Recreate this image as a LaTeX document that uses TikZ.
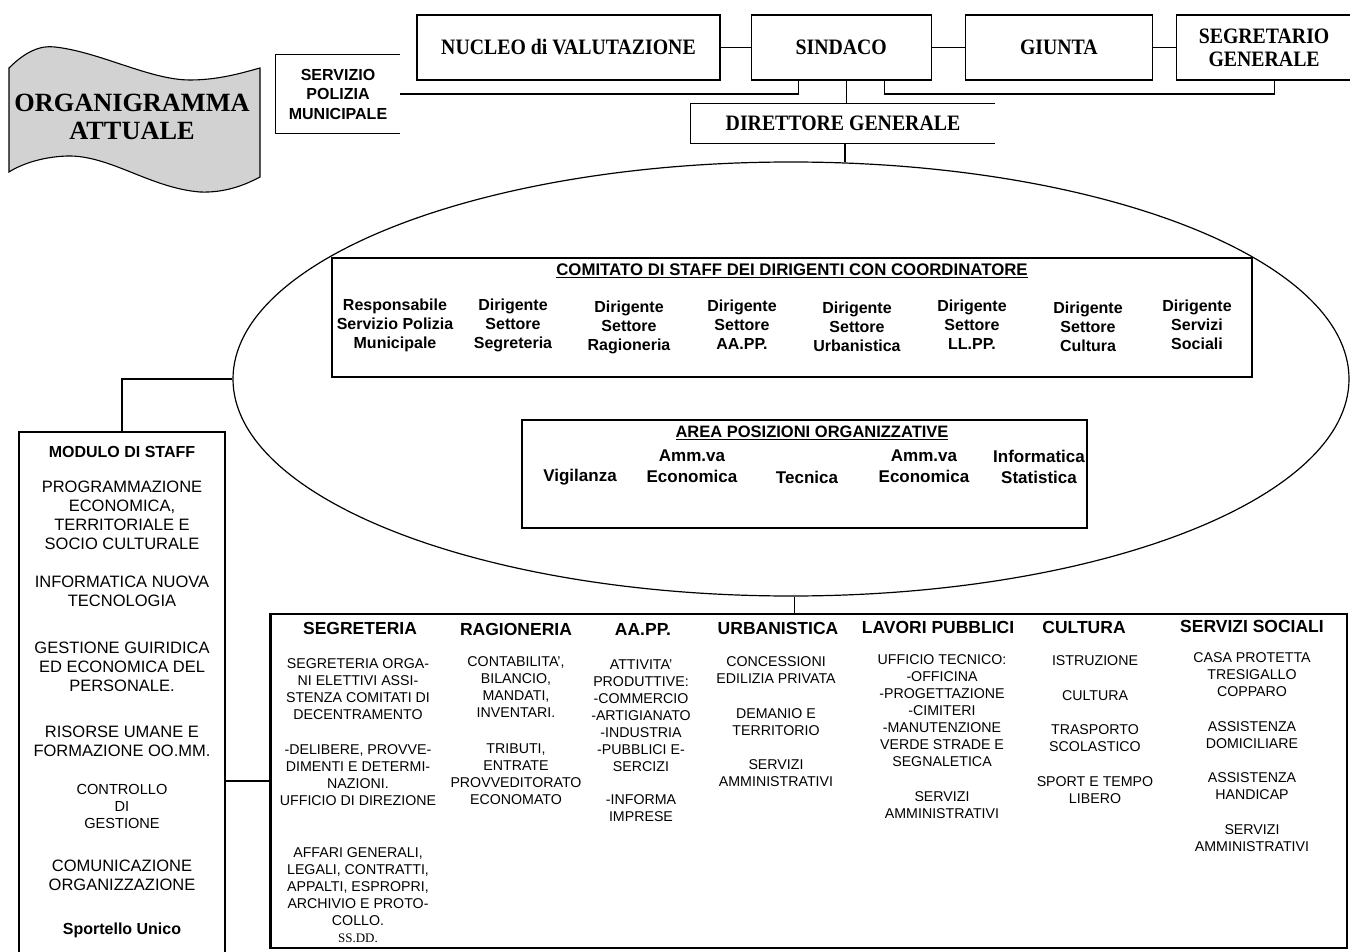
\documentclass[tikz,border=0pt]{standalone}
\usepackage{fontspec}
\setmainfont{Liberation Sans}
\newfontfamily\serifstretto[FakeStretch=0.9]{Liberation Serif}
\newfontfamily\serifpieno{Liberation Serif}
\usetikzlibrary{positioning}
\usetikzlibrary{shapes.geometric}
\tikzset{
  filo/.style={line width=1.1pt},
  cornice/.style={draw, line width=1.2pt, inner sep=0pt},
  riquadro/.style={cornice, minimum height=65pt, align=center,
    font=\serifstretto\bfseries\fontsize{22}{23}\selectfont},
  testo/.style={inner sep=0pt, align=center, font=\fontsize{14.2}{17}\selectfont},
  settore/.style={inner sep=0pt, font=\bfseries\fontsize{17.5}{20}\selectfont},
  dirigente/.style={inner sep=0pt, align=center, font=\bfseries\fontsize{16}{19}\selectfont},
  posizione/.style={inner sep=0pt, align=center, font=\bfseries\fontsize{17}{21}\selectfont},
  titolo/.style={inner sep=0pt, font=\bfseries\fontsize{16.5}{18}\selectfont},
  staff/.style={inner sep=0pt, align=center, font=\fontsize{16.5}{19}\selectfont},
  staffgrassetto/.style={staff, font=\bfseries\fontsize{16}{19}\selectfont},
}

\begin{document}
\begin{tikzpicture}[x=1pt, y=-1pt]
    \useasboundingbox[fill=white] (0,0) rectangle (1350,952);

    \draw[filo, fill=gray!35] (9,68) .. controls (25,52) and (40,45) .. (55,47)
        .. controls (100,52) and (150,80) .. (190,80)
        .. controls (220,80) and (245,72) .. (260,68) -- (260,177)
        .. controls (245,185) and (225,193) .. (200,192)
        .. controls (150,188) and (110,155) .. (67,156)
        .. controls (40,157) and (20,165) .. (9,172) -- cycle;
    \node (banner) [inner sep=0pt, align=center,
        font=\serifpieno\bfseries\fontsize{26.3}{28}\selectfont] at (132,117) {ORGANIGRAMMA\\ATTUALE};

    \node (nucleo) [riquadro, minimum width=303pt] at (568.5,47.5) {NUCLEO di VALUTAZIONE};
    \node (sindaco) [riquadro, minimum width=180pt, right=30pt of nucleo] {SINDACO};
    \node (giunta) [riquadro, minimum width=187pt, right=33pt of sindaco] {GIUNTA};
    \node (segretario) [riquadro, minimum width=175pt, right=23pt of giunta] {SEGRETARIO\\GENERALE};

    \node (polizia) [inner sep=0pt, minimum width=124pt, minimum height=78pt, align=center,
        font=\bfseries\fontsize{16}{19.5}\selectfont] at (338,94) {SERVIZIO\\POLIZIA\\MUNICIPALE};
    \draw[filo] (polizia.north east) -- (polizia.north west) -- (polizia.south west) -- (polizia.south east);

    \node (direttore) [inner sep=0pt, minimum width=304pt, minimum height=40pt,
        font=\serifstretto\bfseries\fontsize{22}{23}\selectfont] at (843,123.5) {DIRETTORE GENERALE};
    \draw[filo] (direttore.north east) -- (direttore.north west) -- (direttore.south west) -- (direttore.south east);

    \draw[filo] (nucleo) -- (sindaco);
    \draw[filo] (sindaco) -- (giunta);
    \draw[filo] (giunta) -- (segretario);
    \draw[filo] ([xshift=-43pt]sindaco.south) |- (polizia.east);
    \draw[filo] ([xshift=43pt]sindaco.south) |- ([xshift=10pt]segretario.south |- polizia.east)
        -- ([xshift=10pt]segretario.south);
    \draw[filo] ([xshift=5pt]sindaco.south) -- ([xshift=5pt]sindaco.south |- direttore.north);

    \node (ovale) [draw, ellipse, line width=1.2pt, inner sep=0pt,
        minimum width=1116pt, minimum height=434pt] at (791,379) {};
    \draw[filo] (direttore.south -| ovale.76) -- (ovale.76);

    \node (comitato) [cornice, fill=white, line width=2.4pt, minimum width=920pt, minimum height=119pt] at (792,317.5) {};
    \node (comtitolo) [titolo, font=\bfseries\fontsize{16.8}{18}\selectfont] at (792,271)
        {\underline{COMITATO DI STAFF DEI DIRIGENTI CON COORDINATORE}};
    \node (resp) [dirigente] at (395,325) {Responsabile\\Servizio Polizia\\Municipale};
    \node (dsegr) [dirigente] at (513,325) {Dirigente\\Settore\\Segreteria};
    \node (drag) [dirigente] at (629,327) {Dirigente\\Settore\\Ragioneria};
    \node (daapp) [dirigente] at (742,325) {Dirigente\\Settore\\AA.PP.};
    \node (durb) [dirigente] at (857,327) {Dirigente\\Settore\\Urbanistica};
    \node (dllpp) [dirigente] at (972,325) {Dirigente\\Settore\\LL.PP.};
    \node (dcult) [dirigente] at (1088,327) {Dirigente\\Settore\\Cultura};
    \node (dsoc) [dirigente] at (1197,325) {Dirigente\\Servizi\\Sociali};

    \node (area) [cornice, fill=white, line width=2pt, minimum width=565pt, minimum height=108pt] at (804.5,474) {};
    \node (areatitolo) [titolo] at (812,433) {\underline{AREA POSIZIONI ORGANIZZATIVE}};
    \node (vigil) [posizione] at (580,477) {Vigilanza};
    \node (ammva1) [posizione] at (692,466.5) {Amm.va\\Economica};
    \node (tecnica) [posizione] at (807,477) {Tecnica};
    \node (ammva2) [posizione] at (924,466.5) {Amm.va\\Economica};
    \node (informatica) [posizione] at (1039,466.5) {Informatica\\Statistica};

    \node (modulo) [cornice, minimum width=206pt, minimum height=528pt] at (122,696) {};
    \node (mtit) [staffgrassetto] at (122,452) {MODULO DI STAFF};
    \node (mprog) [staff] at (122,515.5) {PROGRAMMAZIONE\\ECONOMICA,\\TERRITORIALE E\\SOCIO CULTURALE};
    \node (minfo) [staff] at (122,591) {INFORMATICA NUOVA\\TECNOLOGIA};
    \node (mgest) [staff] at (122,666.5) {GESTIONE GUIRIDICA\\ED ECONOMICA DEL\\PERSONALE.};
    \node (mris) [staff] at (122,741) {RISORSE UMANE E\\FORMAZIONE OO.MM.};
    \node (mcontr) [staff, font=\fontsize{14.6}{17}\selectfont] at (122,806) {CONTROLLO\\DI\\GESTIONE};
    \node (mcom) [staff] at (122,875) {COMUNICAZIONE\\ORGANIZZAZIONE};
    \node (msport) [staffgrassetto] at (122,930) {Sportello Unico};

    \node (settori) [cornice, minimum width=1076pt, minimum height=334pt] at (809,781) {};
    \draw[line width=2.4pt] (settori.north west) -- (settori.south west);

    \draw[filo] (modulo.north) |- (ovale.west);
    \draw[filo] (settori.west) -- (settori.west -| modulo.east);
    \draw[filo] (ovale.271) -- (ovale.271 |- settori.north);

    \node (hsegr) [settore] at (360,628) {SEGRETERIA};
    \node (hrag) [settore] at (516,629) {RAGIONERIA};
    \node (haapp) [settore] at (643,629) {AA.PP.};
    \node (hurb) [settore] at (778,628) {URBANISTICA};
    \node (hllpp) [settore] at (938,627) {LAVORI PUBBLICI};
    \node (hcult) [settore] at (1084,627) {CULTURA};
    \node (hsoc) [settore] at (1252,626) {SERVIZI SOCIALI};

    \node (segr1) [testo] at (358,689.5) {SEGRETERIA ORGA-\\NI ELETTIVI ASSI-\\STENZA COMITATI DI\\DECENTRAMENTO};
    \node (segr2) [testo] at (358,775.5) {-DELIBERE, PROVVE-\\DIMENTI E DETERMI-\\NAZIONI.\\UFFICIO DI DIREZIONE};
    \node (segr3) [testo] at (358,887) {AFFARI GENERALI,\\LEGALI, CONTRATTI,\\APPALTI, ESPROPRI,\\ARCHIVIO E PROTO-\\COLLO.};
    \node (ssdd) [testo, font=\serifpieno\fontsize{13}{15}\selectfont] at (358,938) {SS.DD.};

    \node (rag1) [testo] at (516,687.5) {CONTABILITA',\\BILANCIO,\\MANDATI,\\INVENTARI.};
    \node (rag2) [testo] at (516,774) {TRIBUTI,\\ENTRATE\\PROVVEDITORATO\\ECONOMATO};

    \node (aapp1) [testo] at (641,716) {ATTIVITA'\\PRODUTTIVE:\\-COMMERCIO\\-ARTIGIANATO\\-INDUSTRIA\\-PUBBLICI E-\\SERCIZI};
    \node (aapp2) [testo] at (641,808.5) {-INFORMA\\IMPRESE};

    \node (urb1) [testo] at (776,670.5) {CONCESSIONI\\EDILIZIA PRIVATA};
    \node (urb2) [testo] at (776,722.5) {DEMANIO E\\TERRITORIO};
    \node (urb3) [testo] at (776,773.5) {SERVIZI\\AMMINISTRATIVI};

    \node (llpp1) [testo] at (942,711) {UFFICIO TECNICO:\\-OFFICINA\\-PROGETTAZIONE\\-CIMITERI\\-MANUTENZIONE\\VERDE STRADE E\\SEGNALETICA};
    \node (llpp2) [testo] at (942,805.5) {SERVIZI\\AMMINISTRATIVI};

    \node (cult1) [testo] at (1095,661) {ISTRUZIONE};
    \node (cult2) [testo] at (1095,696) {CULTURA};
    \node (cult3) [testo] at (1095,738) {TRASPORTO\\SCOLASTICO};
    \node (cult4) [testo] at (1095,790.5) {SPORT E TEMPO\\LIBERO};

    \node (soc1) [testo] at (1252,675) {CASA PROTETTA\\TRESIGALLO\\COPPARO};
    \node (soc2) [testo] at (1252,735.5) {ASSISTENZA\\DOMICILIARE};
    \node (soc3) [testo] at (1252,786.5) {ASSISTENZA\\HANDICAP};
    \node (soc4) [testo] at (1252,838) {SERVIZI\\AMMINISTRATIVI};
\end{tikzpicture}
\end{document}
